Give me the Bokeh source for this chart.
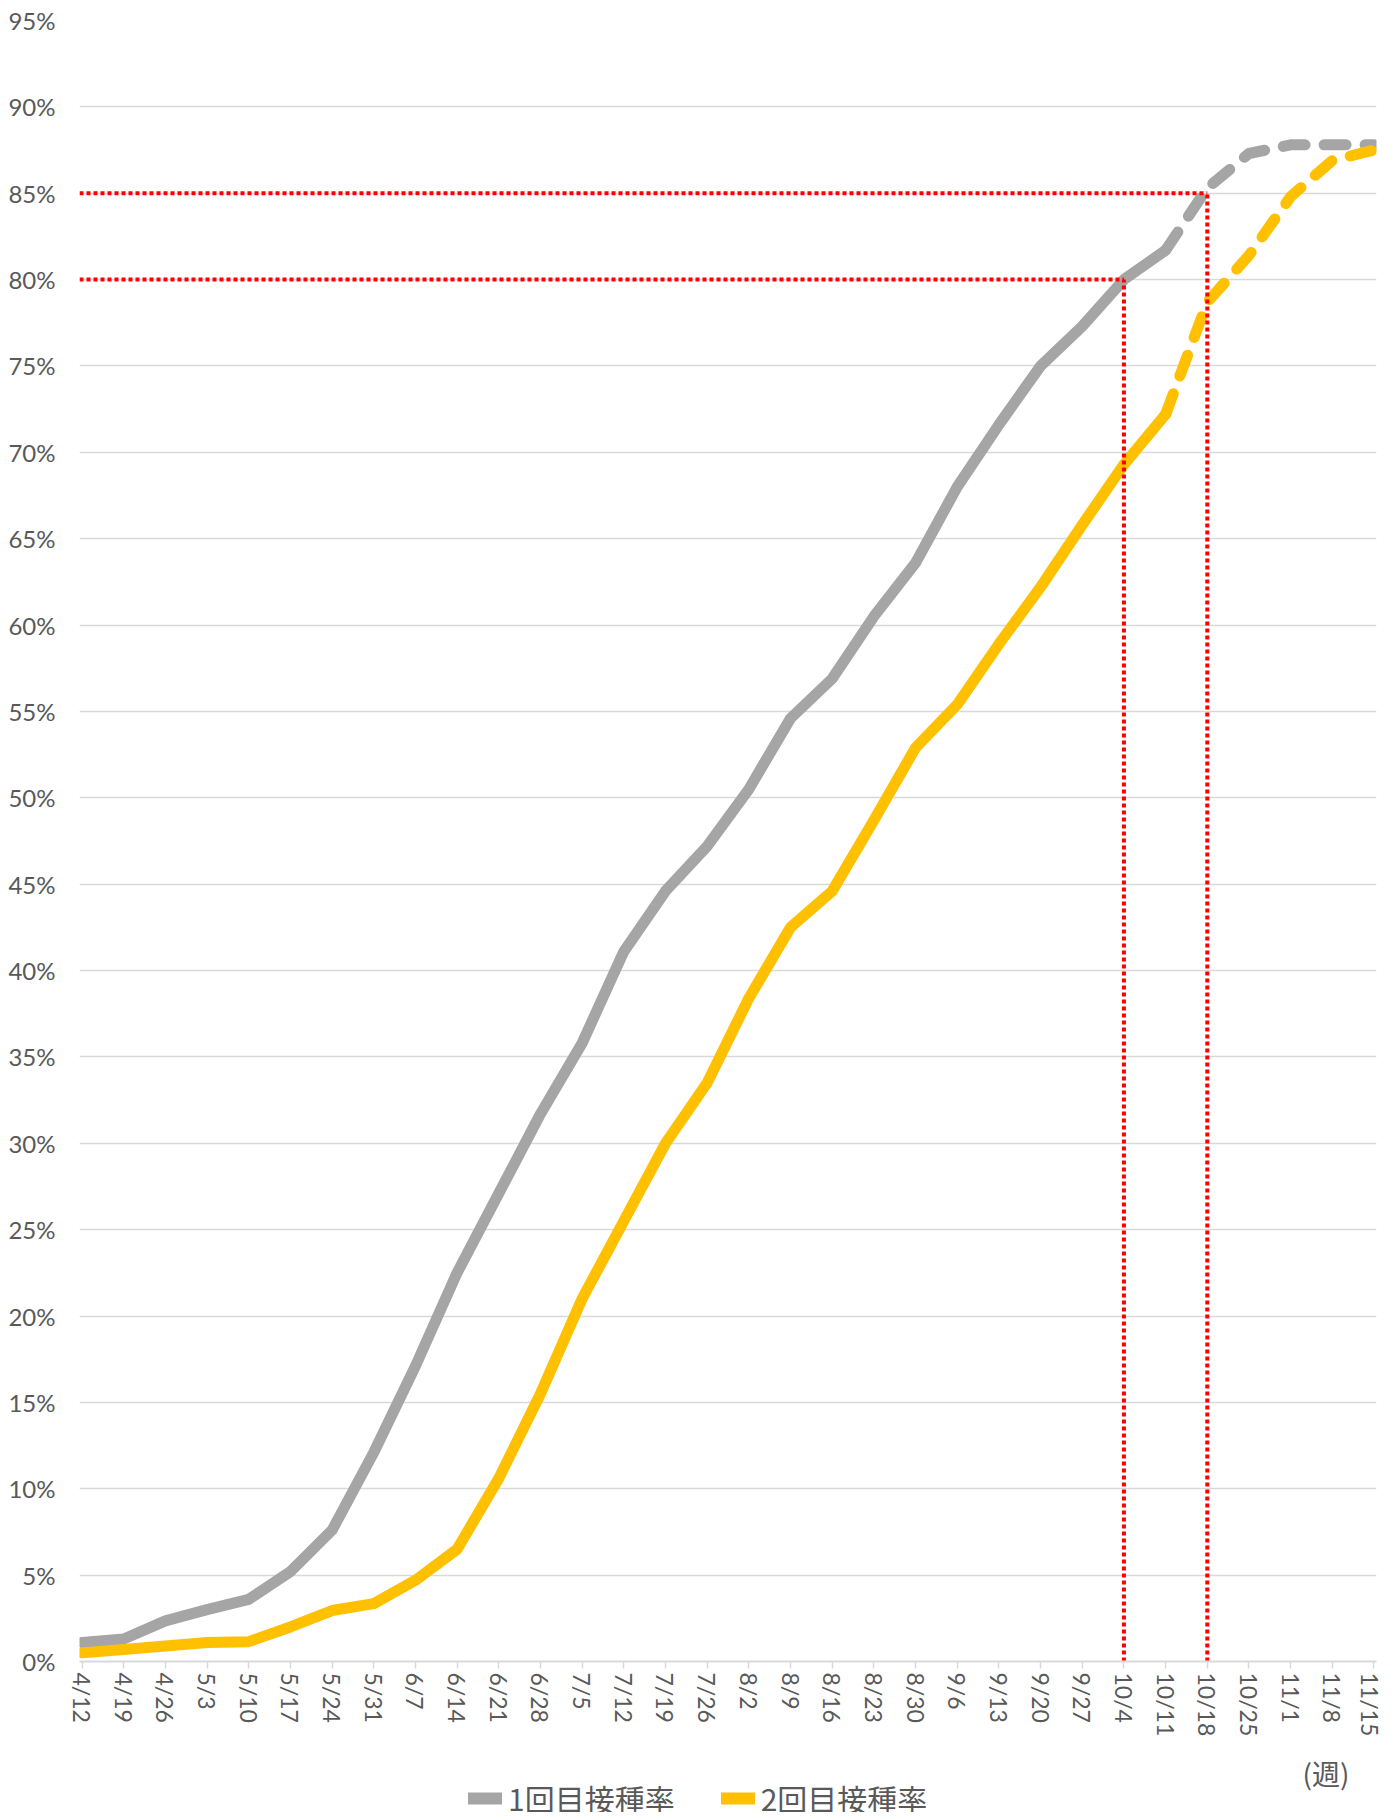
from bokeh.plotting import figure
from bokeh.layouts import column
from bokeh.models import (Range1d, FixedTicker, PrintfTickFormatter, Legend,
                          LegendItem, Label)
from bokeh.embed import file_html
from bokeh.resources import INLINE

# ---- data ----
weeks = ["4/12", "4/19", "4/26", "5/3", "5/10", "5/17", "5/24", "5/31",
         "6/7", "6/14", "6/21", "6/28", "7/5", "7/12", "7/19", "7/26",
         "8/2", "8/9", "8/16", "8/23", "8/30", "9/6", "9/13", "9/20",
         "9/27", "10/4", "10/11", "10/18", "10/25", "11/1", "11/8", "11/15"]
dose1 = [1.1, 1.3, 2.35, 3.0, 3.6, 5.2, 7.6, 12.1, 17.1, 22.5, 27.1, 31.7,
         35.8, 41.1, 44.6, 47.2, 50.5, 54.6, 56.9, 60.5, 63.6, 68.0, 71.6,
         75.0, 77.3, 80.0, 81.7, 85.3, 87.3, 87.8, 87.8, 87.8]
dose2 = [0.5, 0.7, 0.9, 1.1, 1.15, 2.0, 2.95, 3.35, 4.7, 6.5, 10.6, 15.5,
         21.0, 25.5, 30.0, 33.5, 38.4, 42.5, 44.6, 48.7, 52.9, 55.4, 58.9,
         62.2, 65.8, 69.3, 72.2, 78.7, 81.4, 84.8, 86.9, 87.5]
series_names = ["1回目接種率", "2回目接種率"]
forecast_from = "10/11"
target_levels = [80, 85]
target_weeks = ["10/4", "10/18"]
y_ticks = list(range(0, 100, 5))
unit_label = "(週)"

GRAY = "#A5A5A5"
YELLOW = "#FFC000"
GRID = "#D9D9D9"
TXT = "#595959"
RED = "#FF0000"
W = 1383
H_MAIN = 1745
H_LEG = 67
BL, BR = 79, 7

xs = list(range(len(weeks)))
k = weeks.index(forecast_from)

p = figure(width=W, height=H_MAIN, output_backend="svg", toolbar_location=None,
           x_range=Range1d(-0.06, len(weeks) - 1 + 0.06),
           y_range=Range1d(0, 95),
           min_border_left=BL, min_border_right=BR, min_border_top=20,
           min_border_bottom=84)
p.outline_line_color = None
p.xgrid.grid_line_color = None
p.ygrid.grid_line_color = GRID
p.ygrid.grid_line_width = 1.5

p.yaxis.ticker = FixedTicker(ticks=y_ticks)
p.yaxis.formatter = PrintfTickFormatter(format="%d%%")
p.yaxis.axis_line_color = None
p.yaxis.major_tick_line_color = None
p.yaxis.minor_tick_line_color = None
p.yaxis.major_label_standoff = 18
p.yaxis.major_label_text_font = "Lato"
p.yaxis.major_label_text_font_size = "24px"
p.yaxis.major_label_text_color = TXT

p.xaxis.ticker = FixedTicker(ticks=xs)
p.xaxis.major_label_overrides = {i: w for i, w in enumerate(weeks)}
p.xaxis.major_label_orientation = "vertical"
p.xaxis.axis_line_color = GRID
p.xaxis.axis_line_width = 2
p.xaxis.major_tick_line_color = GRID
p.xaxis.major_tick_line_width = 1.5
p.xaxis.major_tick_in = 0
p.xaxis.major_tick_out = 7
p.xaxis.minor_tick_line_color = None
p.xaxis.major_label_standoff = 4
p.xaxis.major_label_text_font = "Lato"
p.xaxis.major_label_text_font_size = "23px"
p.xaxis.major_label_text_color = TXT

LW = 11
p.line(xs[:k + 1], dose1[:k + 1], line_color=GRAY, line_width=LW,
       line_cap="round", line_join="round")
p.line(xs[k:], dose1[k:], line_color=GRAY, line_width=LW, line_cap="round",
       line_join="round", line_dash="22 19")
p.line(xs[:k + 1], dose2[:k + 1], line_color=YELLOW, line_width=LW,
       line_cap="round", line_join="round")
p.line(xs[k:], dose2[k:], line_color=YELLOW, line_width=LW, line_cap="round",
       line_join="round", line_dash="22 19")

tx = [weeks.index(w) for w in target_weeks]
x_start = p.x_range.start
p.segment(x0=[x_start] * len(tx), y0=target_levels, x1=tx, y1=target_levels,
          line_color=RED, line_width=4, line_dash="4 3")
p.segment(x0=tx, y0=[0] * len(tx), x1=tx, y1=target_levels,
          line_color=RED, line_width=4, line_dash="4 3")

# ---- strip below the chart: unit label and legend ----
FW = W - BL - BR
q = figure(width=W, height=H_LEG, output_backend="svg", toolbar_location=None,
           x_range=Range1d(0, FW), y_range=Range1d(0, H_LEG),
           x_axis_location=None, y_axis_location=None,
           min_border_left=BL, min_border_right=BR, min_border_top=0,
           min_border_bottom=0)
q.outline_line_color = None
q.grid.grid_line_color = None

# legend swatch renderers (kept outside the visible range)
r1 = q.line([-200, -100], [-200, -200], line_color=GRAY, line_width=12,
            line_cap="round")
r2 = q.line([-200, -100], [-200, -200], line_color=YELLOW, line_width=12,
            line_cap="round")

q.add_layout(Label(x=1270, y=40, text=unit_label, text_align="right",
                   text_baseline="middle", text_font="Noto Sans CJK JP",
                   text_font_size="28px", text_color=TXT))

legend = Legend(items=[LegendItem(label=series_names[0], renderers=[r1]),
                       LegendItem(label=series_names[1], renderers=[r2])],
                orientation="horizontal", location=(389, -8),
                border_line_color=None, background_fill_alpha=0,
                padding=0, margin=0, spacing=46, glyph_width=34,
                glyph_height=30, label_standoff=6,
                label_text_font="Noto Sans CJK JP", label_text_font_size="30px",
                label_text_color=TXT, label_height=30)
q.add_layout(legend)

layout = column(p, q, spacing=0)
open("out.html", "w").write(file_html(layout, INLINE))
